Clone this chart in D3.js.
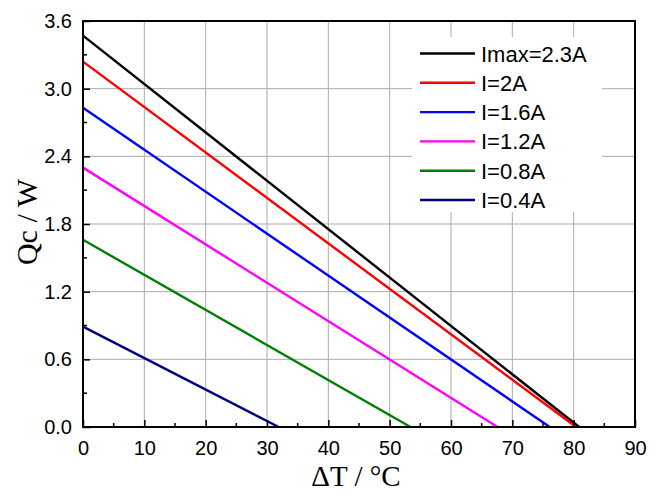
<!DOCTYPE html>
<html><head><meta charset="utf-8">
<script src="https://cdn.jsdelivr.net/npm/d3@7"></script>
<style>body{margin:0;background:#fff}svg{display:block}</style>
</head><body>
<svg id="c" width="665" height="493"></svg>
<script>
const seriesNames = ["Imax=2.3A","I=2A","I=1.6A","I=1.2A","I=0.8A","I=0.4A"];
const seriesColors = ["#000000","#ff0000","#0000ff","#ff00ff","#008000","#000080"];
const qcAtZero = [3.47, 3.24, 2.83, 2.30, 1.66, 0.89];
const dTmax = [80.9, 80.4, 76.1, 67.6, 53.4, 31.9];
const xTicks = [0,10,20,30,40,50,60,70,80,90];
const yTicks = [0.0,0.6,1.2,1.8,2.4,3.0,3.6];

const svg = d3.select("#c");
const L=83, R=635, T=21, B=427;
const x = d3.scaleLinear().domain([0,90]).range([L,R]);
const y = d3.scaleLinear().domain([0,3.6]).range([B,T]);

// grid
const g = svg.append("g");
g.selectAll(".gx").data(xTicks.slice(1,-1)).enter().append("line")
 .attr("x1",d=>x(d)).attr("x2",d=>x(d)).attr("y1",T).attr("y2",B)
 .attr("stroke","#ababab").attr("stroke-width",1);
g.selectAll(".gy").data(yTicks.slice(1,-1)).enter().append("line")
 .attr("x1",L).attr("x2",R).attr("y1",d=>y(d)).attr("y2",d=>y(d))
 .attr("stroke","#ababab").attr("stroke-width",1);

// legend background covers grid
svg.append("rect").attr("x",412).attr("y",37).attr("width",190).attr("height",175).attr("fill","#fff");

// lines
const line = d3.line().x(d=>x(d[0])).y(d=>y(d[1]));
seriesNames.forEach((n,i)=>{
  svg.append("path").datum([[0,qcAtZero[i]],[dTmax[i],0]])
   .attr("d",line).attr("fill","none").attr("stroke",seriesColors[i]).attr("stroke-width",2.4);
});

// axes with inward ticks
const fontTick = "'Liberation Sans', Arial, sans-serif";
const xAxis = d3.axisBottom(x).tickValues(xTicks).tickSizeInner(-7).tickSizeOuter(0).tickPadding(14).tickFormat(d3.format("d"));
const yAxis = d3.axisLeft(y).tickValues(yTicks).tickSizeInner(-7).tickSizeOuter(0).tickPadding(11).tickFormat(d3.format(".1f"));
const xa = svg.append("g").attr("transform",`translate(0,${B})`).call(xAxis);
const ya = svg.append("g").attr("transform",`translate(${L},0)`).call(yAxis);
[xa,ya].forEach(a=>{
  a.select(".domain").remove();
  a.selectAll(".tick line").attr("stroke","#000").attr("stroke-width",1.5);
  a.selectAll("text").attr("font-family",fontTick).attr("font-size",20).attr("fill","#000");
});
// minor ticks
const xMinor = d3.range(5,90,10);
const yMinor = d3.range(0.3,3.6,0.6);
svg.selectAll(".mx").data(xMinor).enter().append("line")
 .attr("x1",d=>x(d)).attr("x2",d=>x(d)).attr("y1",B).attr("y2",B-4).attr("stroke","#000").attr("stroke-width",1.5);
svg.selectAll(".my").data(yMinor).enter().append("line")
 .attr("x1",L).attr("x2",L+4).attr("y1",d=>y(d)).attr("y2",d=>y(d)).attr("stroke","#000").attr("stroke-width",1.5);

// frame
svg.append("rect").attr("x",L).attr("y",T).attr("width",R-L).attr("height",B-T)
 .attr("fill","none").attr("stroke","#000").attr("stroke-width",2);

// legend
const lg = svg.append("g");
seriesNames.forEach((n,i)=>{
  const yy = 53.5 + i*29.3;
  lg.append("line").attr("x1",420).attr("x2",475).attr("y1",yy).attr("y2",yy)
    .attr("stroke",seriesColors[i]).attr("stroke-width",2.4);
  lg.append("text").attr("x",481).attr("y",yy+8).text(n)
    .attr("font-family",fontTick).attr("font-size",22).attr("fill","#000");
});

// axis titles
svg.append("text").attr("x",(L+R)/2-3).attr("y",486).attr("text-anchor","middle")
 .attr("font-family","'Liberation Serif', 'Times New Roman', serif").attr("font-size",29).text("ΔT / °C");
svg.append("text").attr("transform",`translate(37,222) rotate(-90)`).attr("text-anchor","middle")
 .attr("font-family","'Liberation Serif', 'Times New Roman', serif").attr("font-size",30).text("Qc / W");
</script>
</body></html>
